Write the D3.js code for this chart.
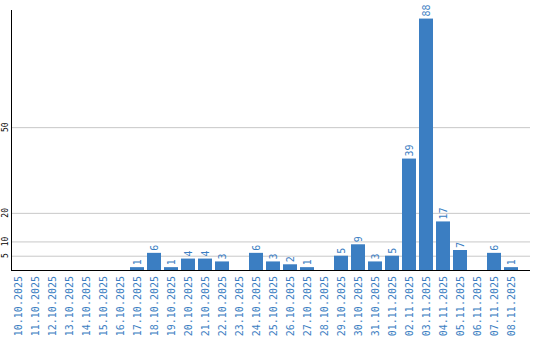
<!DOCTYPE html>
<html>
<head>
<meta charset="utf-8">
<script src="https://cdn.jsdelivr.net/npm/d3@7"></script>
<style>
  body { margin: 0; background: #fff; }
  svg { display: block; }
</style>
</head>
<body>
<div id="chart"></div>
<script>
// Data
const dates = [
  "10.10.2025", "11.10.2025", "12.10.2025", "13.10.2025", "14.10.2025",
  "15.10.2025", "16.10.2025", "17.10.2025", "18.10.2025", "19.10.2025",
  "20.10.2025", "21.10.2025", "22.10.2025", "23.10.2025", "24.10.2025",
  "25.10.2025", "26.10.2025", "27.10.2025", "28.10.2025", "29.10.2025",
  "30.10.2025", "31.10.2025", "01.11.2025", "02.11.2025", "03.11.2025",
  "04.11.2025", "05.11.2025", "06.11.2025", "07.11.2025", "08.11.2025"
];
const counts = [0, 0, 0, 0, 0, 0, 0, 1, 6, 1, 4, 4, 3, 0, 6, 3, 2, 1, 0, 5, 9, 3, 5, 39, 88, 17, 7, 0, 6, 1];
const yTicks = [5, 10, 20, 50];

function drawChart() {
  const W = 540, H = 340;
  const left = 11, right = 530, top = 10, bottom = 270;
  const blue = "#3b7ec2";
  const mono = "'DejaVu Sans Mono', monospace";

  const svg = d3.select("#chart").append("svg")
    .attr("width", W)
    .attr("height", H);

  const x = d3.scaleBand()
    .domain(dates)
    .range([left, 518])
    .paddingInner(3 / 17)
    .paddingOuter(0);

  const y = d3.scaleLinear()
    .domain([0, 91])
    .range([bottom, top]);

  // gridlines
  svg.append("g")
    .selectAll("line")
    .data(yTicks)
    .join("line")
    .attr("x1", left)
    .attr("x2", right)
    .attr("y1", d => y(d) + 0.5)
    .attr("y2", d => y(d) + 0.5)
    .attr("stroke", "#c8c8c8")
    .attr("stroke-width", 1);

  // y tick labels (rotated)
  svg.append("g")
    .selectAll("text")
    .data(yTicks)
    .join("text")
    .attr("transform", d => `translate(8,${y(d)}) rotate(-90)`)
    .attr("text-anchor", "middle")
    .attr("font-family", mono)
    .attr("font-size", 8)
    .attr("fill", "#000")
    .text(d => d);

  const data = dates.map((d, i) => ({ date: d, value: counts[i] }));

  // bars
  svg.append("g")
    .selectAll("rect")
    .data(data)
    .join("rect")
    .attr("x", d => x(d.date))
    .attr("width", x.bandwidth())
    .attr("y", d => y(d.value))
    .attr("height", d => bottom - y(d.value))
    .attr("fill", blue);

  // value labels
  svg.append("g")
    .selectAll("text")
    .data(data.filter(d => d.value > 0))
    .join("text")
    .attr("transform", d => `translate(${x(d.date) + x.bandwidth() / 2 + 3.5},${y(d.value) - 2}) rotate(-90)`)
    .attr("text-anchor", "start")
    .attr("font-family", mono)
    .attr("font-size", 10)
    .attr("fill", blue)
    .text(d => d.value);

  // axes lines
  svg.append("line")
    .attr("x1", left + 0.5).attr("x2", left + 0.5)
    .attr("y1", top).attr("y2", bottom + 1)
    .attr("stroke", "#000");
  svg.append("line")
    .attr("x1", left).attr("x2", right)
    .attr("y1", bottom + 0.5).attr("y2", bottom + 0.5)
    .attr("stroke", "#000");

  // x labels
  svg.append("g")
    .selectAll("text")
    .data(dates)
    .join("text")
    .attr("transform", d => `translate(${x(d) + x.bandwidth() / 2 + 3.5},${bottom + 6}) rotate(-90)`)
    .attr("text-anchor", "end")
    .attr("font-family", mono)
    .attr("font-size", 10)
    .attr("fill", blue)
    .text(d => d);
}

document.addEventListener('DOMContentLoaded', drawChart);
</script>
</body>
</html>
